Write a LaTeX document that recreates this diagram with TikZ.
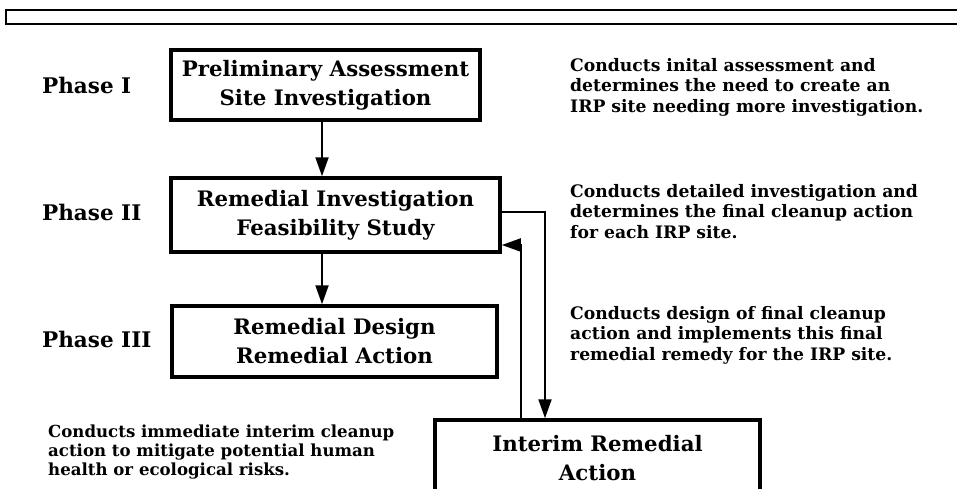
\documentclass[tikz,border=0pt]{standalone}
\usepackage{fontspec}
\setmainfont{DejaVu Serif}
\usetikzlibrary{arrows.meta}
\begin{document}
\begin{tikzpicture}[x=1pt,y=-1pt,
  phasebox/.style={draw=black, line width=3.5pt, fill=white, inner sep=0pt, align=center,
    font=\bfseries\fontsize{21.3}{29}\selectfont},
  phaselabel/.style={anchor=base west, inner sep=0pt, font=\bfseries\fontsize{21.5}{28.5}\selectfont},
  desc/.style={anchor=base west, inner sep=0pt},
  conn/.style={line width=2pt, -{Triangle[length=19pt,width=13pt]}}
]
\useasboundingbox (0,0) rectangle (957,488);
\clip (0,0) rectangle (957,488);
\fill[white] (0,0) rectangle (957,488);

% top frame
\draw[line width=2.6pt] (970,10) -- (6,10) -- (6,24) -- (970,24);

% boxes
\node[phasebox, minimum width=309pt, minimum height=70pt] (box1) at (325.5,85)
  {Preliminary Assessment\\Site Investigation};
\node[phasebox, minimum width=329pt, minimum height=74pt] (box2) at (335.5,215)
  {Remedial Investigation\\Feasibility Study};
\node[phasebox, minimum width=325pt, minimum height=71pt] (box3) at (334.5,341.5)
  {Remedial Design\\Remedial Action};
\node[phasebox, minimum width=325pt, minimum height=76pt] (box4) at (597.5,458)
  {Interim Remedial\\Action};

% phase labels
\node[phaselabel] (p1) at (42,93) {Phase I};
\node[phaselabel] (p2) at (42,220) {Phase II};
\node[phaselabel] (p3) at (42,347) {Phase III};

% descriptions
\node[desc] (d1) at (570,71) {\parbox[t]{385pt}{\raggedright\bfseries\fontsize{17.2}{20.5}\selectfont
  Conducts inital assessment and\\determines the need to create an\\IRP site needing more investigation.}};
\node[desc] (d2) at (570,197) {\parbox[t]{385pt}{\raggedright\bfseries\fontsize{17.2}{20.5}\selectfont
  Conducts detailed investigation and\\determines the final cleanup action\\for each IRP site.}};
\node[desc] (d3) at (570,319) {\parbox[t]{385pt}{\raggedright\bfseries\fontsize{17.2}{20.5}\selectfont
  Conducts design of final cleanup\\action and implements this final\\remedial remedy for the IRP site.}};
\node[desc] (d4) at (48,437) {\parbox[t]{380pt}{\raggedright\bfseries\fontsize{16.6}{19}\selectfont
  Conducts immediate interim cleanup\\action to mitigate potential human\\health or ecological risks.}};

% connectors
\coordinate (ax) at (322,0);
\coordinate (c1) at (545,212);
\coordinate (c2) at (521,245);
\draw[conn] (ax |- box1.south) -- (ax |- box2.north);
\draw[conn] (ax |- box2.south) -- (ax |- box3.north);
\draw[conn] (box2.east |- c1) -- (c1) -- (c1 |- box4.north);
\draw[conn] (c2 |- box4.north) -- (c2) -- (c2 -| box2.east);
\end{tikzpicture}
\end{document}
